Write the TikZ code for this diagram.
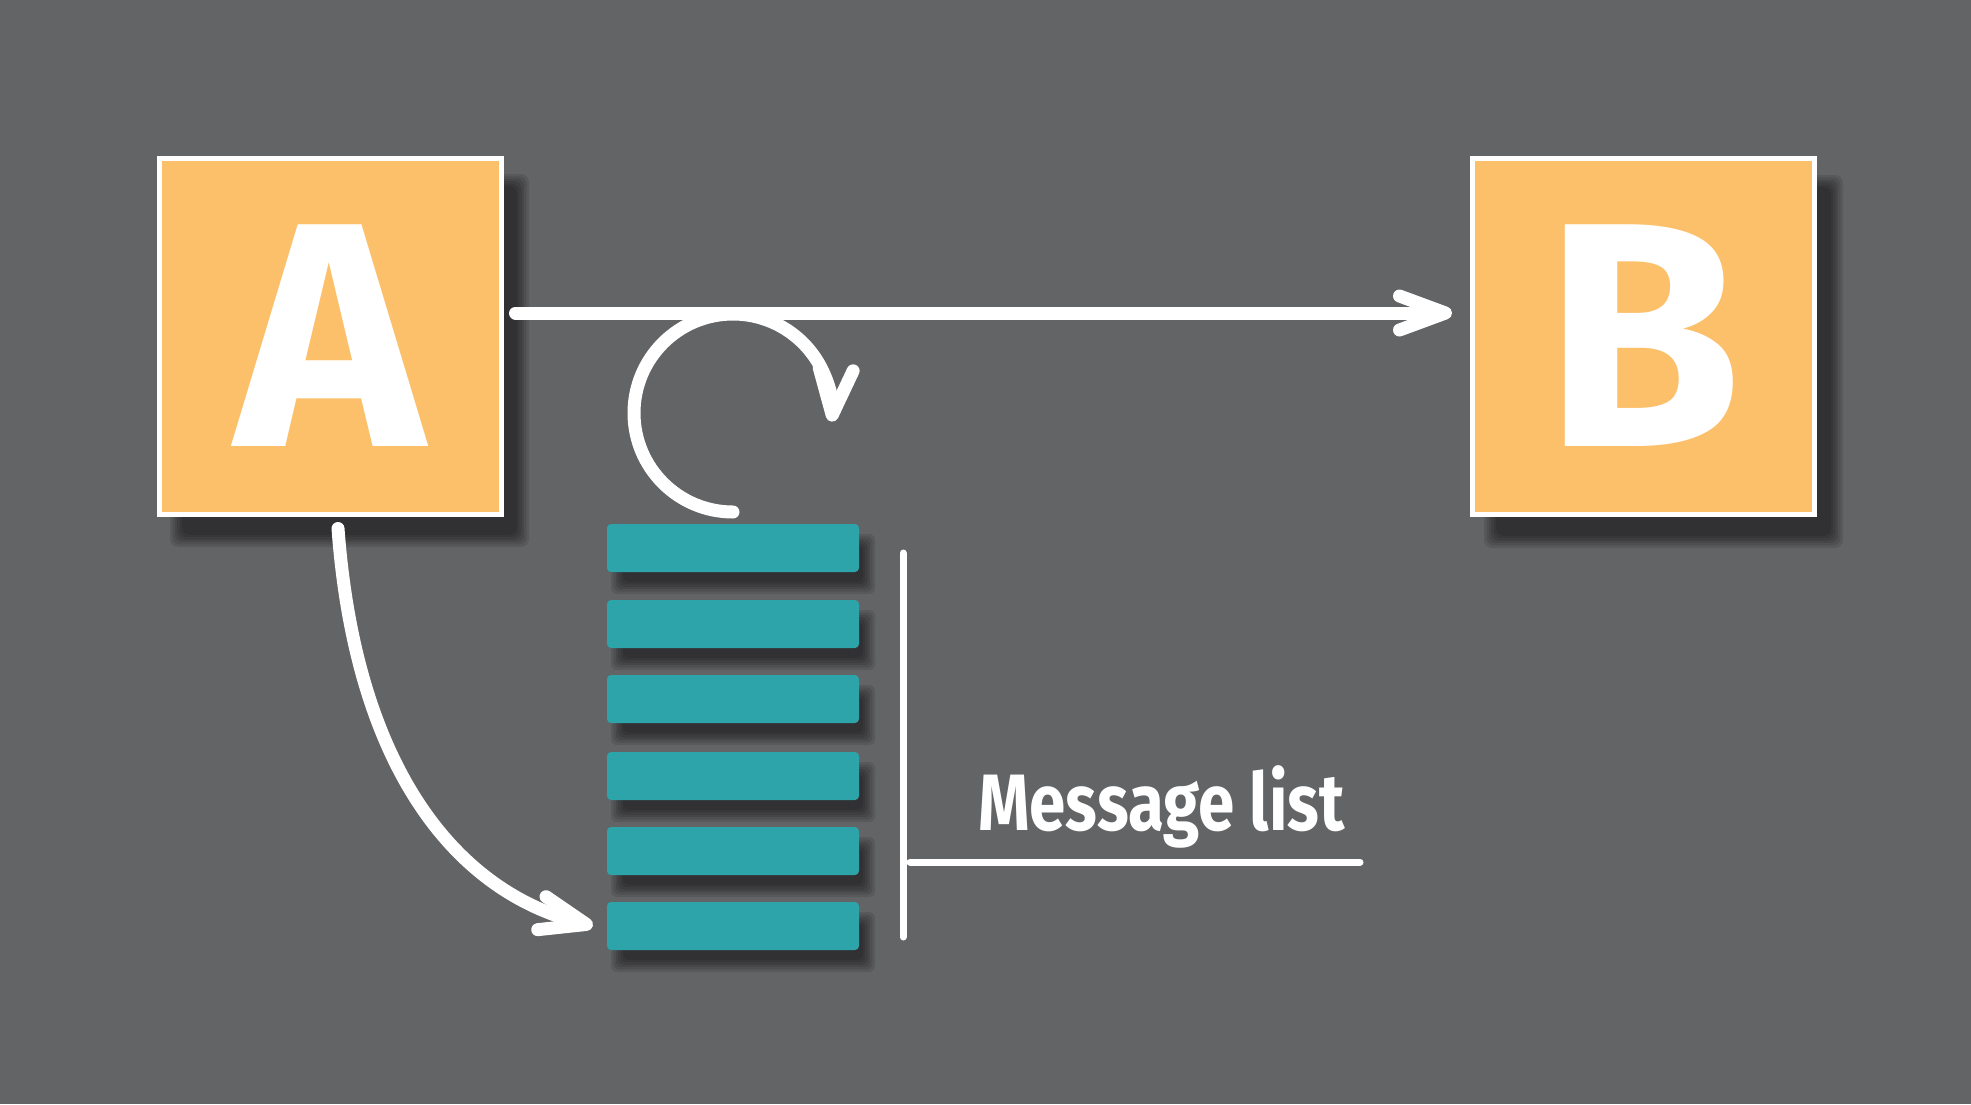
\documentclass[tikz,border=0pt]{standalone}
\usepackage{graphicx}
\usepackage{fontspec}
\setmainfont{Fira Sans}
\usetikzlibrary{arrows.meta,calc}
\definecolor{bgc}{RGB}{99,100,102}
\definecolor{boxc}{RGB}{252,191,106}
\definecolor{barc}{RGB}{44,164,169}
\newcommand\mysoftshadow[5]{%
  \foreach \k in {0,...,5}{%
    \fill[black,opacity=0.1,rounded corners=#5]
      ({#1+6-\k*2.4},{#2+6-\k*2.4}) rectangle ({#3-6+\k*2.4},{#4-6+\k*2.4});}}
\begin{document}
\begin{tikzpicture}[x=1pt,y=-1pt,
  box/.style={draw=white, line width=5pt, fill=boxc, minimum width=342pt,
    minimum height=356pt, inner sep=0pt, text=white,
    font=\bfseries\fontsize{320}{320}\selectfont},
  bar/.style={fill=barc, rounded corners=4pt, minimum width=252pt,
    minimum height=48pt, inner sep=0pt},
  link/.style={draw=white, line width=13pt, line cap=round, line join=round},
  tipped/.style={-{Straight Barb[length=46pt,width=34pt,round]}},
  rule/.style={draw=white, line width=7pt, line cap=round},
  lbl/.style={text=white, inner sep=0pt, font=\bfseries\fontsize{80}{80}\selectfont}]
\fill[bgc] (0,0) rectangle (1971,1104);
\useasboundingbox (0,0) rectangle (1971,1104);
% shadows
\mysoftshadow{176}{180}{523}{541}{8}
\mysoftshadow{1490}{181}{1837}{542}{8}
\foreach \yy in {524,600,675,752,827,902}{
  \mysoftshadow{617}{\yy+16}{869}{\yy+64}{6}}
% boxes
\node[box] (A) at (330,336) {A};
\node[box] (B) at (1643.5,336) {B};
% message bars
\node[bar] (m1) at (733,548) {};
\node[bar] (m2) at (733,624) {};
\node[bar] (m3) at (733,699) {};
\node[bar] (m4) at (733,776) {};
\node[bar] (m5) at (733,851) {};
\node[bar] (m6) at (733,926) {};
% arrows
\draw[link,tipped] ([shift={(12,-23)}]A.east) -- ([shift={(-18,-23)}]B.west);
\coordinate (loopstart) at (733,512);
\draw[link,tipped] (loopstart) arc[start angle=90,end angle=365,radius=99];
\draw[link,tipped] ([shift={(8,12)}]A.south) .. controls (355,760) and (450,890) .. ([xshift=-14pt]m6.west);
% bracket and label
\coordinate (brt) at (903,553);
\coordinate (brb) at (903,937);
\draw[rule] (brt) -- (brb);
\coordinate (ulL) at (910,862);
\coordinate (ulR) at (1360,862);
\draw[rule] (ulL) -- (ulR);
\node[lbl, anchor=base west] (label) at (978,830) {\scalebox{0.82}[1]{Message list}};
\end{tikzpicture}
\end{document}
